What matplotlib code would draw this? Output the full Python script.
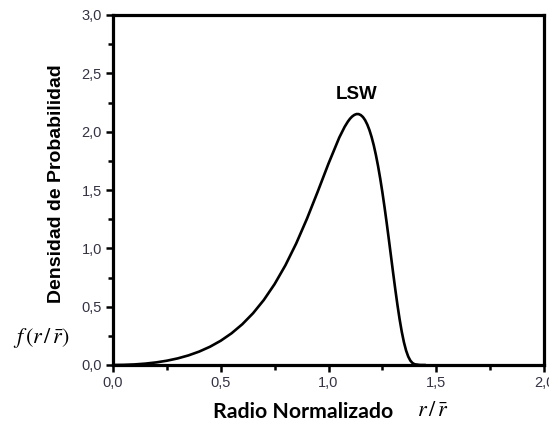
import matplotlib
matplotlib.use("Agg")
import matplotlib.pyplot as plt
from matplotlib.ticker import MultipleLocator, FuncFormatter

# LSW distribution curve
r_norm = [0.0, 0.05, 0.10, 0.15, 0.20, 0.25, 0.30, 0.35, 0.40, 0.45, 0.50,
          0.55, 0.60, 0.65, 0.70, 0.75, 0.80, 0.85, 0.90, 0.95, 1.00,
          1.05, 1.075, 1.09, 1.10, 1.11, 1.12, 1.13, 1.14, 1.15, 1.16,
          1.17, 1.18, 1.19, 1.20, 1.21, 1.22, 1.23, 1.24, 1.25, 1.26,
          1.27, 1.28, 1.29, 1.30, 1.31, 1.32, 1.33, 1.34, 1.35, 1.36,
          1.37, 1.38, 1.39, 1.40, 1.425, 1.45]
density = [0.0, 0.0012, 0.0049, 0.0118, 0.0222, 0.0368, 0.0565, 0.0822, 0.1151, 0.1565, 0.2080,
           0.2716, 0.3494, 0.4439, 0.5578, 0.6939, 0.8545, 1.0412, 1.2536, 1.4861, 1.7264,
           1.9498, 2.0417, 2.0867, 2.1114, 2.1305, 2.1437, 2.1510, 2.1506, 2.1420, 2.1251,
           2.0983, 2.0611, 2.0135, 1.9542, 1.8833, 1.7998, 1.7048, 1.5982, 1.4808, 1.3533,
           1.2180, 1.0767, 0.9325, 0.7880, 0.6473, 0.5141, 0.3921, 0.2848, 0.1950, 0.1241,
           0.0721, 0.0373, 0.0166, 0.0061, 0.0001, 0.0]

curve_label = "LSW"
x_label = "Radio Normalizado"
y_label = "Densidad de Probabilidad"

W, H = 549, 426
fig = plt.figure(figsize=(W / 100, H / 100), dpi=100)
ax = fig.add_axes([113 / W, 1 - 365 / H, (544 - 113) / W, (365 - 15) / H])

ax.plot(r_norm, density, color="black", lw=1.9, solid_capstyle="round",
        solid_joinstyle="round", zorder=3)

ax.set_xlim(0, 2.0)
ax.set_ylim(0, 3.0)
ax.xaxis.set_major_locator(MultipleLocator(0.5))
ax.xaxis.set_minor_locator(MultipleLocator(0.25))
ax.yaxis.set_major_locator(MultipleLocator(0.5))
ax.yaxis.set_minor_locator(MultipleLocator(0.25))
fmt = FuncFormatter(lambda v, p: f"{v:.1f}".replace(".", ","))
ax.xaxis.set_major_formatter(fmt)
ax.yaxis.set_major_formatter(fmt)

for s in ax.spines.values():
    s.set_linewidth(2.3)
ax.tick_params(which="major", direction="out", length=5, width=1.8,
               labelsize=10.5, labelcolor="#333344", pad=3)
ax.tick_params(which="minor", direction="out", length=3.5, width=1.8)
for lab in ax.get_xticklabels() + ax.get_yticklabels():
    lab.set_fontfamily("Liberation Sans")

ax.text(1.13, 2.32, curve_label, ha="center", va="center", fontsize=13.5,
        fontweight="bold", family="Liberation Sans")

fig.text(57 / W, 1 - 184 / H, y_label, rotation=90, ha="center", va="center",
         fontsize=14, fontweight="bold", family="Liberation Sans")
fig.text(303 / W, 1 - 412 / H, x_label, ha="center", va="center",
         fontsize=15.3, fontweight="bold", family="Lato")

plt.rcParams["mathtext.fontset"] = "stix"
fig.text(433 / W, 1 - 410 / H, r"$r\,/\,\bar{r}$", ha="center", va="center",
         fontsize=16)
fig.text(41 / W, 1 - 338 / H, r"$f\,(r\,/\,\bar{r})$", ha="center", va="center",
         fontsize=16)

fig.savefig("out.png", dpi=100)
